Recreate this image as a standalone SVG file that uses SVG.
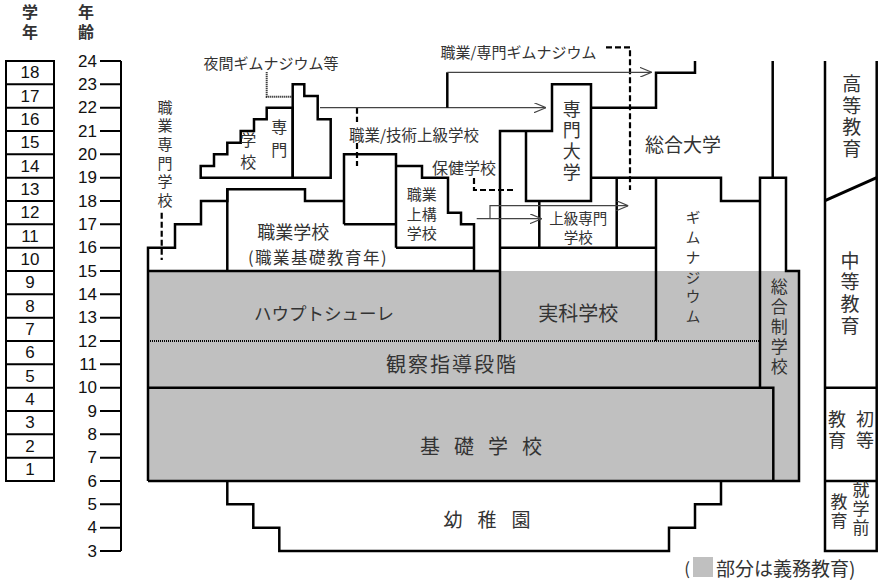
<svg xmlns="http://www.w3.org/2000/svg" width="880" height="585" viewBox="0 0 880 585">
<defs>
<marker id="ah" viewBox="0 0 12 10" refX="12" refY="5" markerWidth="12" markerHeight="10" markerUnits="userSpaceOnUse" orient="auto">
<path d="M0,0 L12,5 L0,10" fill="none" stroke="#444" stroke-width="1.2"/>
</marker>
</defs>
<style>
.o{fill:none;stroke:#000;stroke-width:2.5}
.o2{fill:none;stroke:#000;stroke-width:2}
.t{fill:none;stroke:#444;stroke-width:1.2}
.da{fill:none;stroke:#000;stroke-width:2.2;stroke-dasharray:6 3}
.dt{fill:none;stroke:#000;stroke-width:2;stroke-dasharray:1 1}
.j{font-family:"Noto Sans CJK JP","Noto Sans CJK SC",sans-serif;fill:#333;text-anchor:middle;dominant-baseline:central}
.v{font-family:"Noto Sans CJK JP","Noto Sans CJK SC",sans-serif;fill:#333;text-anchor:middle;dominant-baseline:central;writing-mode:vertical-rl}
.n{font-family:"Liberation Sans",Arial,sans-serif;fill:#111;font-size:17px;dominant-baseline:central}
.g{fill:#c0c0c0}
</style>
<rect width="880" height="585" fill="#fff"/>

<!-- headers -->
<g id="header-grade">
<text class="v" font-weight="bold" font-size="16" x="30" y="24" letter-spacing="4">学年</text>
</g>
<g id="header-age">
<text class="v" font-weight="bold" font-size="16" x="86" y="24" letter-spacing="4">年齢</text>
</g>

<!-- grade column -->
<g id="grade-scale">
<rect x="6" y="61" width="48" height="420" class="o2"/>
<path class="o2" d="M6,84.3H54M6,107.7H54M6,131H54M6,154.3H54M6,177.7H54M6,201H54M6,224.3H54M6,247.7H54M6,271H54M6,294.3H54M6,317.7H54M6,341H54M6,364.3H54M6,387.7H54M6,411H54M6,434.3H54M6,457.7H54"/>
<g class="n" text-anchor="middle">
<text x="30" y="72.7">18</text><text x="30" y="96">17</text><text x="30" y="119.3">16</text><text x="30" y="142.7">15</text><text x="30" y="166">14</text><text x="30" y="189.3">13</text><text x="30" y="212.7">12</text><text x="30" y="236">11</text><text x="30" y="259.3">10</text><text x="30" y="282.7">9</text><text x="30" y="306">8</text><text x="30" y="329.3">7</text><text x="30" y="352.7">6</text><text x="30" y="376">5</text><text x="30" y="399.3">4</text><text x="30" y="422.7">3</text><text x="30" y="446">2</text><text x="30" y="469.3">1</text>
</g>
</g>

<!-- age column -->
<g id="age-scale">
<path class="o2" d="M121,61V551M100,61H121M100,84.3H121M100,107.7H121M100,131H121M100,154.3H121M100,177.7H121M100,201H121M100,224.3H121M100,247.7H121M100,271H121M100,294.3H121M100,317.7H121M100,341H121M100,364.3H121M100,387.7H121M100,411H121M100,434.3H121M100,457.7H121M100,481H121M100,504.3H121M100,527.7H121M100,551H121"/>
<g class="n" text-anchor="end">
<text x="97" y="61">24</text><text x="97" y="84.3">23</text><text x="97" y="107.7">22</text><text x="97" y="131">21</text><text x="97" y="154.3">20</text><text x="97" y="177.7">19</text><text x="97" y="201">18</text><text x="97" y="224.3">17</text><text x="97" y="247.7">16</text><text x="97" y="271">15</text><text x="97" y="294.3">14</text><text x="97" y="317.7">13</text><text x="97" y="341">12</text><text x="97" y="364.3">11</text><text x="97" y="387.7">10</text><text x="97" y="411">9</text><text x="97" y="434.3">8</text><text x="97" y="457.7">7</text><text x="97" y="481">6</text><text x="97" y="504.3">5</text><text x="97" y="527.7">4</text><text x="97" y="551">3</text>
</g>
</g>

<!-- compulsory gray area -->
<rect class="g" x="148" y="271" width="651" height="210"/>

<g id="fachschule">
<path class="o" d="M292.7,177.7H200.7V166H214V154.3H227.3V142.7H240.7V131H254V119.3H266.7V107.7H292.7Z"/>
<text class="v" font-size="16" x="279.3" y="141.5" letter-spacing="7">専門</text>
<text class="v" font-size="16" x="248.3" y="154" letter-spacing="5.7">学校</text>
</g>

<g id="abendgymnasium">
<path class="o" d="M292.7,177.7V84.3H304.3V96H317.7V119.3H330.7V177.7H292.7"/>
<text class="j" font-size="15" x="271" y="62">夜間ギムナジウム等</text>
</g>

<g id="berufsfachschule">
<path class="o" d="M148,481V247.7H175V224.3H201V201H227.3V189.3H305V201H344"/>
<text class="v" font-size="15" x="165" y="155.5" letter-spacing="3.6">職業専門学校</text>
</g>

<g id="berufsschule">
<path class="o" d="M227.3,189.3V271M148,271H500"/>
<text class="j" font-size="18" x="293.3" y="230.7">職業学校</text>
<text class="j" font-size="16.5" x="318" y="256.7" letter-spacing="1.5">(職業基礎教育年)</text>
</g>

<g id="berufsoberschule">
<path class="o" d="M344,224.3V154.3H396V247.7M344,224.3H396"/>
<text class="j" font-size="15.5" x="414" y="134">職業/技術上級学校</text>
</g>

<g id="berufsaufbauschule">
<path class="o" d="M396,166H422V177.7H448V212.7H461V224.3H474V271M396,247.7H474"/>
<text class="j" font-size="15"><tspan x="421.7" y="193.3">職業</tspan><tspan x="421.7" y="212.7">上構</tspan><tspan x="421.7" y="231.7">学校</tspan></text>
</g>

<g id="gesundheitsschule">
<text class="j" font-size="16" x="464" y="167.3">保健学校</text>
</g>

<g id="fachhochschule">
<path class="o" d="M500,341V131H552V84.3H591V201H526V131"/>
<text class="v" font-size="18" x="571.7" y="142.5" letter-spacing="3">専門大学</text>
</g>

<g id="hoehere-fachschule">
<path class="o" d="M539.3,201V247.7M616.7,177.7V247.7M500,247.7H656"/>
<text class="j" font-size="14.5"><tspan x="578.3" y="217">上級専門</tspan><tspan x="578.3" y="236.3">学校</tspan></text>
</g>

<g id="universitaet">
<path class="o" d="M591,107.7H656V72.7H695V61M591,177.7H721V201H760M772.7,61V177.7"/>
<text class="j" font-size="19" x="683" y="143.3">総合大学</text>
</g>

<g id="gymnasium">
<path class="o" d="M656,177.7V341"/>
<text class="v" font-size="15" x="693" y="269.5" letter-spacing="4.8">ギムナジウム</text>
</g>

<g id="gesamtschule">
<path class="o" d="M760,387.7V177.7H786V271H799V481H148"/>
<text class="v" font-size="17" x="779.3" y="328.4" letter-spacing="3">総合制学校</text>
</g>

<g id="hauptschule">
<text class="j" font-size="17.5" x="324" y="312.7">ハウプトシューレ</text>
</g>

<g id="realschule">
<text class="j" font-size="20" x="578.3" y="312.7">実科学校</text>
</g>

<g id="orientierungsstufe">
<path class="dt" d="M148,341H760"/>
<text class="j" font-size="20" x="452" y="363" letter-spacing="2">観察指導段階</text>
</g>

<g id="grundschule">
<path class="o" d="M148,387.7H773.3V481"/>
<text class="j" font-size="20" x="481" y="445" letter-spacing="14" dx="7">基礎学校</text>
</g>

<g id="kindergarten">
<path class="o" d="M227.3,481V504.3H253.3V527.7H279.3V551H669V527.7H695V504.3H721V481"/>
<text class="j" font-size="19" x="487" y="518" letter-spacing="15" dx="7.5">幼稚園</text>
</g>

<!-- stage column -->
<g id="stages">
<path class="o" d="M825,61V551H876.7V61M825,387.7H876.7M825,481H876.7"/>
<path d="M825,200.7L876.7,177.7" fill="none" stroke="#000" stroke-width="3"/>
</g>
<g id="stage-higher">
<text class="v" font-size="19" x="851.7" y="117.5" letter-spacing="2.7">高等教育</text>
</g>
<g id="stage-secondary">
<text class="v" font-size="19" x="850" y="294.2" letter-spacing="2.7">中等教育</text>
</g>
<g id="stage-primary">
<text class="v" font-size="18" x="865" y="431.3" letter-spacing="2.7">初等</text>
<text class="v" font-size="18" x="837" y="431.3" letter-spacing="2.7">教育</text>
</g>
<g id="stage-preschool">
<text class="v" font-size="17" x="861" y="510" letter-spacing="2">就学前</text>
<text class="v" font-size="17" x="839" y="512.5" letter-spacing="2">教育</text>
</g>

<!-- connectors -->
<g id="connectors">
<path class="da" d="M161.7,212.7V260"/>
<path class="dt" d="M266.7,72.3V96.7H292.7"/>
<path class="da" d="M357,107.7V122M357,143V166"/>
<path class="da" d="M474,178V190H514"/>
<path class="da" d="M606,47.3H630V190"/>
<path class="t" d="M320,107.7H546" marker-end="url(#ah)"/>
<path class="o" d="M447.3,107.7V72.3"/>
<path class="t" d="M447.3,72.3H651.7" marker-end="url(#ah)"/>
<path class="t" d="M476.7,218.7H541.7" marker-end="url(#ah)"/>
<path class="t" d="M490,218.7V205.7H628.3" marker-end="url(#ah)"/>
<text class="j" font-size="15" x="518.5" y="51.7">職業/専門ギムナジウム</text>
</g>

<!-- legend -->
<g id="legend">
<text class="j" font-size="17" x="687" y="567">(</text>
<rect class="g" x="693" y="557" width="20" height="20"/>
<text class="j" font-size="19" x="716" y="567" style="text-anchor:start">部分は義務教育)</text>
</g>
</svg>
